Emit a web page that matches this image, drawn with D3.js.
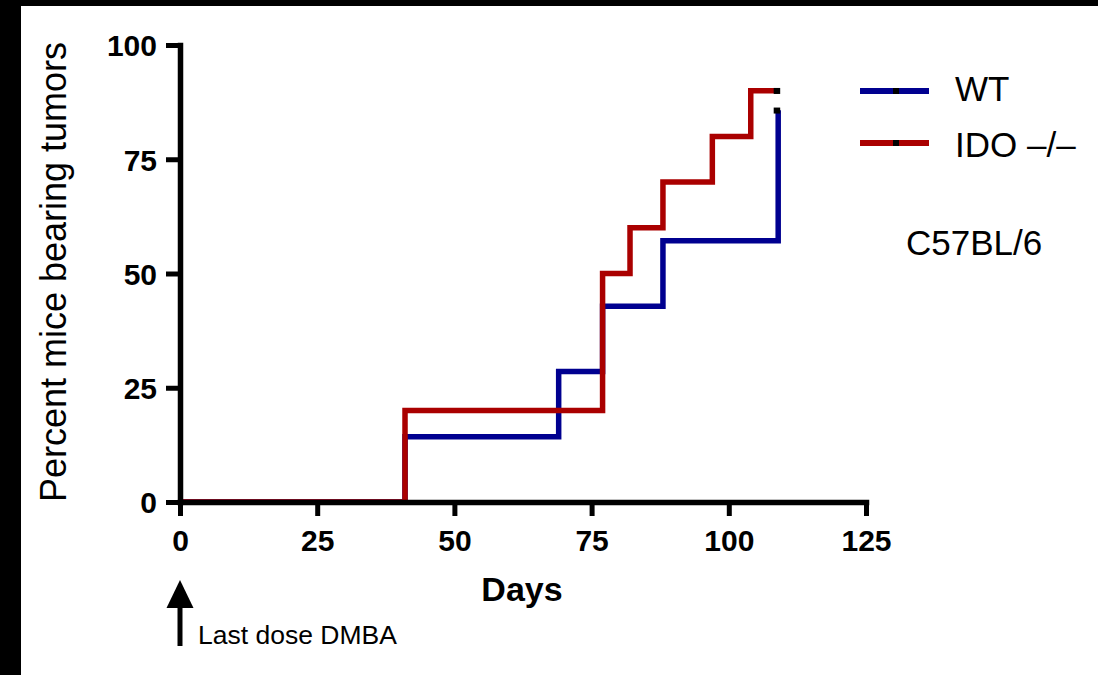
<!DOCTYPE html>
<html>
<head>
<meta charset="utf-8">
<script src="https://cdn.jsdelivr.net/npm/d3@7"></script>
<style>
  html, body { margin: 0; padding: 0; background: #000; }
  svg { display: block; }
  text { font-family: "Liberation Sans", Arial, Helvetica, sans-serif; fill: #000; }
</style>
</head>
<body>
<svg id="chart" width="1098" height="675"></svg>
<script>
// ---- data ----
const seriesNames = ["WT", "IDO –/–"];
const wtDays   = [0, 41, 69, 77, 88, 109];
const wtValues = [0, 14.29, 28.57, 42.86, 57.14, 85.71];
const idoDays   = [0, 41, 77, 82, 88, 97, 104];
const idoValues = [0, 20, 50, 60, 70, 80, 90];
const censorDay = 109;
const xTicks = [0, 25, 50, 75, 100, 125];
const yTicks = [0, 25, 50, 75, 100];
const seriesColors = ["#000090", "#aa0000"];

const svg = d3.select("#chart");
svg.append("rect").attr("x", 0).attr("y", 0).attr("width", 1098).attr("height", 675).attr("fill", "#000");
svg.append("rect").attr("x", 21).attr("y", 6).attr("width", 1077).attr("height", 669).attr("fill", "#fff");

const x = d3.scaleLinear().domain([0, 125]).range([180, 866]);
const y = d3.scaleLinear().domain([0, 100]).range([502, 45]);

function buildPoints(days, vals) {
  const pts = days.map((d, i) => [d, vals[i]]);
  const last = pts[pts.length - 1];
  if (last[0] < censorDay) pts.push([censorDay, last[1]]);
  return pts;
}
const series = [
  { name: seriesNames[0], color: seriesColors[0], pts: buildPoints(wtDays, wtValues) },
  { name: seriesNames[1], color: seriesColors[1], pts: buildPoints(idoDays, idoValues) }
];

const line = d3.line().x(d => x(d[0])).y(d => y(d[1])).curve(d3.curveStepAfter);

const gLines = svg.append("g");
series.forEach(s => {
  gLines.append("path")
    .attr("d", line(s.pts))
    .attr("fill", "none")
    .attr("stroke", s.color)
    .attr("stroke-width", 5.5)
    .attr("stroke-linejoin", "miter")
    .attr("stroke-linecap", "butt");
});
// censor marks
series.forEach(s => {
  const last = s.pts[s.pts.length - 1];
  gLines.append("rect")
    .attr("x", x(censorDay) - 4.5)
    .attr("y", y(last[1]) - 2.75)
    .attr("width", 6.5)
    .attr("height", 6)
    .attr("fill", "#000");
});

// ---- axes ----
const yAxis = d3.axisLeft(y).tickValues(yTicks).tickSize(14).tickSizeOuter(0).tickPadding(8);
const xAxis = d3.axisBottom(x).tickValues(xTicks).tickSize(14).tickSizeOuter(0).tickPadding(14);

const gy = svg.append("g").attr("transform", "translate(180,0)").call(yAxis);
const gx = svg.append("g").attr("transform", "translate(0,502)").call(xAxis);

[gx, gy].forEach(g => {
  g.select(".domain").attr("stroke", "#000").attr("stroke-width", 5.5).attr("stroke-linecap", "square");
  g.selectAll(".tick line").attr("stroke", "#000").attr("stroke-width", 5);
  g.selectAll(".tick text")
    .style("font-family", '"Liberation Sans", Arial, sans-serif')
    .style("font-size", "30px")
    .style("font-weight", "bold")
    .attr("fill", "#000");
});
gy.selectAll(".tick text").attr("x", -23).attr("dy", "0.36em");
gx.selectAll(".tick text").attr("y", 28).attr("dy", "0.71em");

// axis titles
svg.append("text")
  .attr("transform", "translate(66,272) rotate(-90)")
  .attr("text-anchor", "middle")
  .style("font-size", "36px")
  .text("Percent mice bearing tumors");

svg.append("text")
  .attr("x", 522).attr("y", 601)
  .attr("text-anchor", "middle")
  .style("font-size", "34px").style("font-weight", "bold")
  .text("Days");

// ---- legend ----
series.forEach((s, i) => {
  const ly = [91, 143][i];
  svg.append("line")
    .attr("x1", 860).attr("x2", 929).attr("y1", ly).attr("y2", ly)
    .attr("stroke", s.color).attr("stroke-width", 6);
  svg.append("rect")
    .attr("x", 893).attr("y", ly - 3).attr("width", 6).attr("height", 6).attr("fill", "#000");
  svg.append("text")
    .attr("x", 955).attr("y", [101, 157][i])
    .style("font-size", "35px")
    .text(s.name);
});

svg.append("text")
  .attr("x", 906).attr("y", 255)
  .style("font-size", "35px")
  .text("C57BL/6");

// ---- annotation arrow ----
svg.append("line")
  .attr("x1", 180).attr("x2", 180).attr("y1", 604).attr("y2", 646)
  .attr("stroke", "#000").attr("stroke-width", 5);
svg.append("path")
  .attr("d", d3.line()([[180, 580], [166.5, 608], [193.5, 608]]) + "Z")
  .attr("fill", "#000");
svg.append("text")
  .attr("x", 198).attr("y", 644)
  .style("font-size", "26.5px")
  .text("Last dose DMBA");
</script>
</body>
</html>
